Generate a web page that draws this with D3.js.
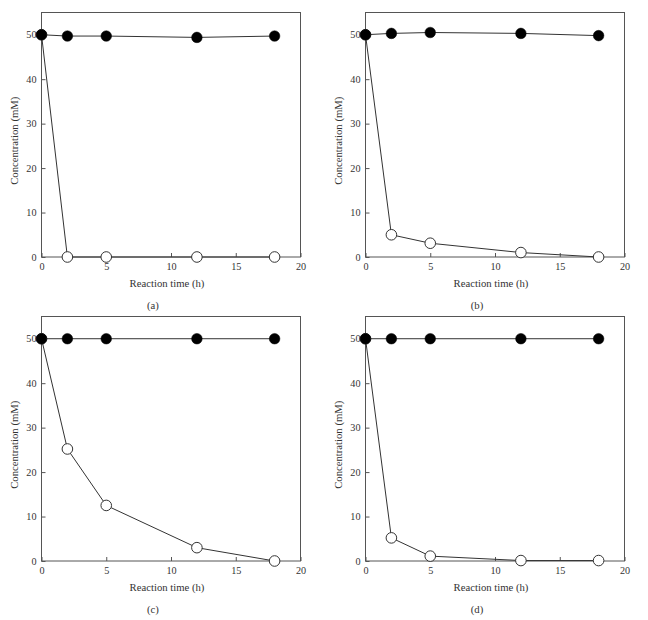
<!DOCTYPE html>
<html>
<head>
<meta charset="utf-8">
<script src="https://cdn.jsdelivr.net/npm/d3@7"></script>
<style>
  html, body { margin: 0; padding: 0; background: #fff; }
  svg { display: block; }
  text { font-family: "Liberation Serif", "DejaVu Serif", serif; fill: #333; }
</style>
</head>
<body>
<svg id="chart" width="648" height="620"></svg>
<script>
// ---- Data ----
const times = [0, 2, 5, 12, 18];
const panelLabels = ["(a)", "(b)", "(c)", "(d)"];
const filledA = [50, 49.7, 49.7, 49.4, 49.7];
const openA   = [50, 0, 0, 0, 0];
const filledB = [50, 50.3, 50.5, 50.3, 49.8];
const openB   = [50, 5.0, 3.1, 1.0, 0];
const filledC = [50, 50, 50, 50, 50];
const openC   = [50, 25.2, 12.5, 3.0, 0];
const filledD = [50, 50, 50, 50, 50];
const openD   = [50, 5.2, 1.1, 0.1, 0.1];
const xTicks = [0, 5, 10, 15, 20];
const yTicks = [0, 10, 20, 30, 40, 50];
const xTitle = "Reaction time (h)";
const yTitle = "Concentration (mM)";

const filledSeries = [filledA, filledB, filledC, filledD];
const openSeries = [openA, openB, openC, openD];

// ---- Layout ----
const lefts = [41.5, 365.5];
const tops = [12.5, 316.5];
const W = 259, H = 244.5;

const svg = d3.select("#chart");

panelLabels.forEach((lab, i) => {
  const col = i % 2, row = Math.floor(i / 2);
  const g = svg.append("g").attr("transform", `translate(${lefts[col]},${tops[row]})`);
  const x = d3.scaleLinear().domain([0, 20]).range([0, W]);
  const y = d3.scaleLinear().domain([0, 55]).range([H, 0]);

  // frame
  g.append("rect").attr("x", 0).attr("y", 0).attr("width", W).attr("height", H)
    .attr("fill", "none").attr("stroke", "#555").attr("stroke-width", 1);

  // x axis (inward ticks)
  const xa = g.append("g").attr("transform", `translate(0,${H})`)
    .call(d3.axisBottom(x).tickValues(xTicks).tickSize(-4).tickPadding(6).tickFormat(d3.format("d")));
  xa.select(".domain").remove();
  xa.selectAll("line").attr("stroke", "#555");
  xa.selectAll("text").attr("y", 6).attr("font-size", 10.2).attr("fill", "#333")
    .attr("font-family", "Liberation Serif, serif");

  // y axis (inward ticks)
  const ya = g.append("g")
    .call(d3.axisLeft(y).tickValues(yTicks).tickSize(-4).tickPadding(5).tickFormat(d3.format("d")));
  ya.select(".domain").remove();
  ya.selectAll("line").attr("stroke", "#555");
  ya.selectAll("text").attr("x", -5).attr("font-size", 10.2).attr("fill", "#333")
    .attr("font-family", "Liberation Serif, serif");

  const line = d3.line().x(d => x(d[0])).y(d => y(d[1]));
  const open = times.map((t, k) => [t, openSeries[i][k]]);
  const filled = times.map((t, k) => [t, filledSeries[i][k]]);

  g.append("path").datum(open).attr("d", line)
    .attr("fill", "none").attr("stroke", "#333").attr("stroke-width", 1);
  g.append("path").datum(filled).attr("d", line)
    .attr("fill", "none").attr("stroke", "#333").attr("stroke-width", 1);

  g.selectAll(".open").data(open).enter().append("circle")
    .attr("cx", d => x(d[0])).attr("cy", d => y(d[1])).attr("r", 5.3)
    .attr("fill", "#fff").attr("stroke", "#333").attr("stroke-width", 1);
  g.selectAll(".filled").data(filled).enter().append("circle")
    .attr("cx", d => x(d[0])).attr("cy", d => y(d[1])).attr("r", 5.3)
    .attr("fill", "#000").attr("stroke", "#000").attr("stroke-width", 0.5);

  // axis titles
  g.append("text").attr("x", W / 2 - 4).attr("y", H + 26)
    .attr("text-anchor", "middle").attr("dominant-baseline", "central")
    .attr("font-size", 10.7).text(xTitle);
  g.append("text")
    .attr("transform", `translate(${-28},${H / 2 + 6}) rotate(-90)`)
    .attr("text-anchor", "middle").attr("dominant-baseline", "central")
    .attr("font-size", 10.7).text(yTitle);
  g.append("text").attr("x", W / 2 - 18).attr("y", H + 48)
    .attr("text-anchor", "middle").attr("dominant-baseline", "central")
    .attr("font-size", 10.7).text(lab);
});
</script>
</body>
</html>
